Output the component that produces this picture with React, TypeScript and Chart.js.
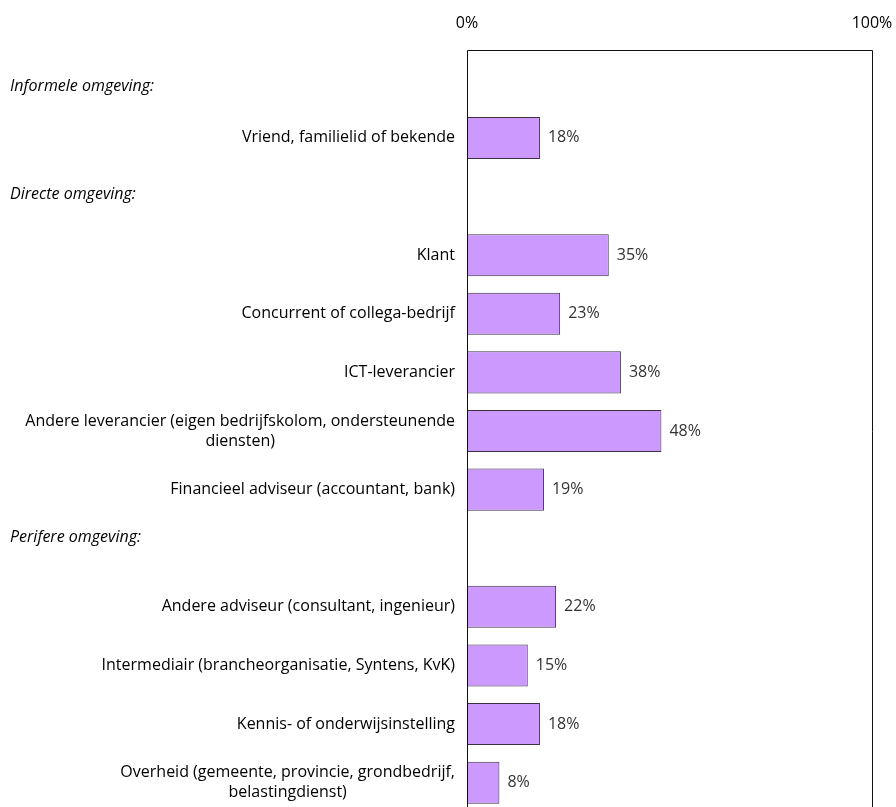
import React, { useEffect, useRef } from 'react';
import { Chart, registerables } from 'chart.js';

Chart.register(...registerables);

const categories: (string | string[])[] = [
  'Informele omgeving:',
  'Vriend, familielid of bekende',
  'Directe omgeving:',
  'Klant',
  'Concurrent of collega-bedrijf',
  'ICT-leverancier',
  ['Andere leverancier (eigen bedrijfskolom, ondersteunende', 'diensten)'],
  'Financieel adviseur (accountant, bank)',
  'Perifere omgeving:',
  'Andere adviseur (consultant, ingenieur)',
  'Intermediair (brancheorganisatie, Syntens, KvK)',
  'Kennis- of onderwijsinstelling',
  ['Overheid (gemeente, provincie, grondbedrijf,', 'belastingdienst)'],
];

const groupHeader = [true, false, true, false, false, false, false, false, true, false, false, false, false];

const values: (number | null)[] = [null, 18, null, 35, 23, 38, 48, 19, null, 22, 15, 18, 8];

const xTickValues = [0, 100];
const xTickLabels = ['0%', '100%'];

const FONT = "'Open Sans', 'Noto Sans', sans-serif";

export default function App() {
  const ref = useRef<HTMLCanvasElement | null>(null);

  useEffect(() => {
    document.body.style.margin = '0';
    document.body.style.overflow = 'hidden';
    const canvas = ref.current;
    if (!canvas) return;

    const rowKeys = categories.map((c) => (Array.isArray(c) ? c.join(' ') : c));
    // small vertical nudges of the free-standing group header texts
    const headerNudge: Record<number, number> = { 0: 7, 2: -2, 8: -11 };

    const labelPlugin = {
      id: 'rowLabels',
      afterDraw(chart: any) {
        const ctx = chart.ctx;
        const y = chart.scales.y;
        const area = chart.chartArea;
        ctx.save();
        ctx.textBaseline = 'middle';
        categories.forEach((cat, i) => {
          const cy = y.getPixelForValue(i);
          if (groupHeader[i]) {
            ctx.font = `italic 16px ${FONT}`;
            ctx.fillStyle = '#000';
            ctx.textAlign = 'left';
            ctx.fillText(Array.isArray(cat) ? cat.join(' ') : cat, 10, cy + (headerNudge[i] || 0));
            return;
          }
          const lines = Array.isArray(cat) ? cat : [cat];
          ctx.font = `16px ${FONT}`;
          ctx.fillStyle = '#000';
          ctx.textAlign = 'center';
          const widest = Math.max(...lines.map((l) => ctx.measureText(l).width));
          const right = area.left - 12;
          const cx = right - widest / 2;
          const lh = 20;
          const startY = cy - ((lines.length - 1) * lh) / 2;
          lines.forEach((l, j) => ctx.fillText(l, cx, startY + j * lh));
        });
        // value labels
        const meta = chart.getDatasetMeta(0);
        ctx.font = `16px ${FONT}`;
        ctx.fillStyle = '#333';
        ctx.textAlign = 'left';
        meta.data.forEach((bar: any, i: number) => {
          const v = values[i];
          if (v == null) return;
          ctx.fillText(`${v}%`, bar.x + 8, bar.y);
        });
        // plot frame
        ctx.strokeStyle = '#111';
        ctx.lineWidth = 1;
        ctx.beginPath();
        ctx.moveTo(Math.round(area.left) + 0.5, chart.height);
        ctx.lineTo(Math.round(area.left) + 0.5, Math.round(area.top) + 0.5);
        ctx.lineTo(Math.round(area.right) + 0.5, Math.round(area.top) + 0.5);
        ctx.lineTo(Math.round(area.right) + 0.5, chart.height);
        ctx.stroke();
        ctx.restore();
      },
    };

    const chart = new Chart(canvas, {
      type: 'bar',
      data: {
        labels: rowKeys,
        datasets: [
          {
            data: values as any,
            backgroundColor: '#CC99FF',
            borderColor: '#3a3040',
            borderWidth: 1,
            borderSkipped: false,
            barPercentage: 0.717,
            categoryPercentage: 1,
          },
        ],
      },
      options: {
        indexAxis: 'y',
        animation: false,
        responsive: false,
        layout: { padding: { left: 0, right: 24, top: 0, bottom: 0 } },
        plugins: {
          legend: { display: false },
          tooltip: { enabled: false },
        },
        scales: {
          x: {
            position: 'top',
            min: 0,
            max: 100,
            grid: { display: false },
            border: { display: false },
            afterBuildTicks: (scale: any) => {
              scale.ticks = xTickValues.map((v) => ({ value: v }));
            },
            afterFit: (scale: any) => {
              scale.height = 50;
              scale.paddingLeft = 0;
              scale.paddingRight = 0;
            },
            ticks: {
              padding: 9,
              color: '#000',
              font: { family: FONT, size: 16 },
              maxRotation: 0,
              callback: (v: any) => xTickLabels[xTickValues.indexOf(Number(v))] ?? '',
            },
          },
          y: {
            type: 'category',
            grid: { display: false },
            border: { display: false },
            ticks: { display: false },
            afterFit: (scale: any) => {
              scale.width = 467;
            },
          },
        },
      },
      plugins: [labelPlugin],
    });

    return () => chart.destroy();
  }, []);

  return (
    <div style={{ position: 'absolute', left: 0, top: 0, width: 896, height: 812 }}>
      <canvas ref={ref} width={896} height={812} style={{ display: 'block', width: 896, height: 812 }} />
    </div>
  );
}
